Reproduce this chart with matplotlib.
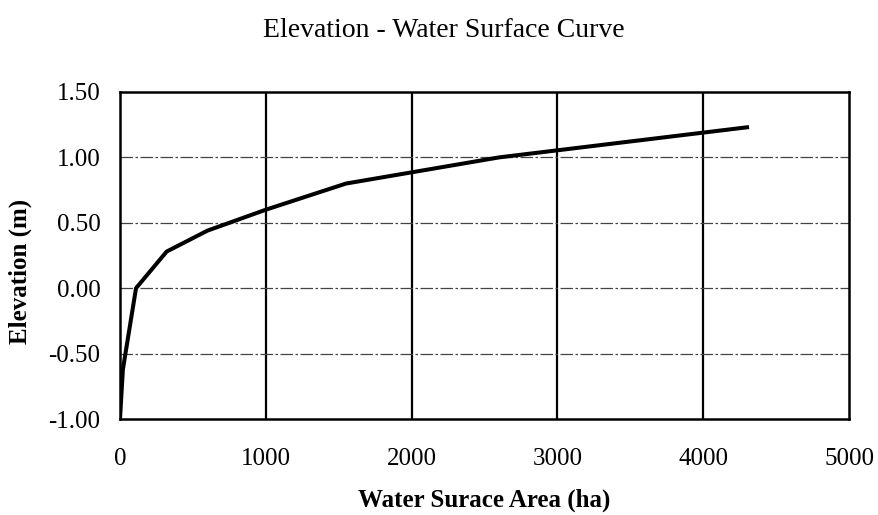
import matplotlib
matplotlib.use('Agg')
import matplotlib.pyplot as plt

# 読み取った曲線の点 (面積 ha, 標高 m)
area_ha = [0, 20, 110, 320, 600, 1000, 1550, 2600, 4300]
elevation_m = [-1.00, -0.62, 0.00, 0.28, 0.44, 0.60, 0.80, 1.00, 1.23]

x_ticks = [0, 1000, 2000, 3000, 4000, 5000]
y_ticks = [-1.00, -0.50, 0.00, 0.50, 1.00, 1.50]

plt.rcParams['font.family'] = ['Liberation Serif', 'DejaVu Serif']

fig = plt.figure(figsize=(8.79, 5.15), dpi=100)
ax = fig.add_axes([0.1365, 0.1864, 0.8295, 0.635])

# グリッド: 縦は実線, 横は一点鎖線
for x in x_ticks[1:-1]:
    ax.axvline(x, color='black', lw=1.6, zorder=1)
for y in y_ticks[1:-1]:
    ax.axhline(y, color='#444444', lw=0.9, ls=(0, (10, 2, 2, 2)), zorder=1)

ax.plot(area_ha, elevation_m, color='black', lw=2.9, zorder=3)

ax.set_xlim(0, 5000)
ax.set_ylim(-1.0, 1.5)
ax.set_xticks(x_ticks)
ax.set_yticks(y_ticks)
ax.set_xticklabels([str(v) for v in x_ticks])
ax.set_yticklabels([f"{v:.2f}" for v in y_ticks])
ax.tick_params(length=0, labelsize=18)
ax.tick_params(axis='x', pad=21)
ax.tick_params(axis='y', pad=14)

for s in ax.spines.values():
    s.set_linewidth(1.8)
    s.set_color('black')

ax.set_xlabel("Water Surace Area (ha)", fontsize=18, fontweight='bold', labelpad=13)
ax.set_ylabel("Elevation (m)", fontsize=18, fontweight='bold')
ax.yaxis.set_label_coords(-0.12, 0.45)
fig.text(0.505, 0.94, "Elevation - Water Surface Curve", ha='center', va='center', fontsize=20)

fig.savefig('out.png', dpi=100)
